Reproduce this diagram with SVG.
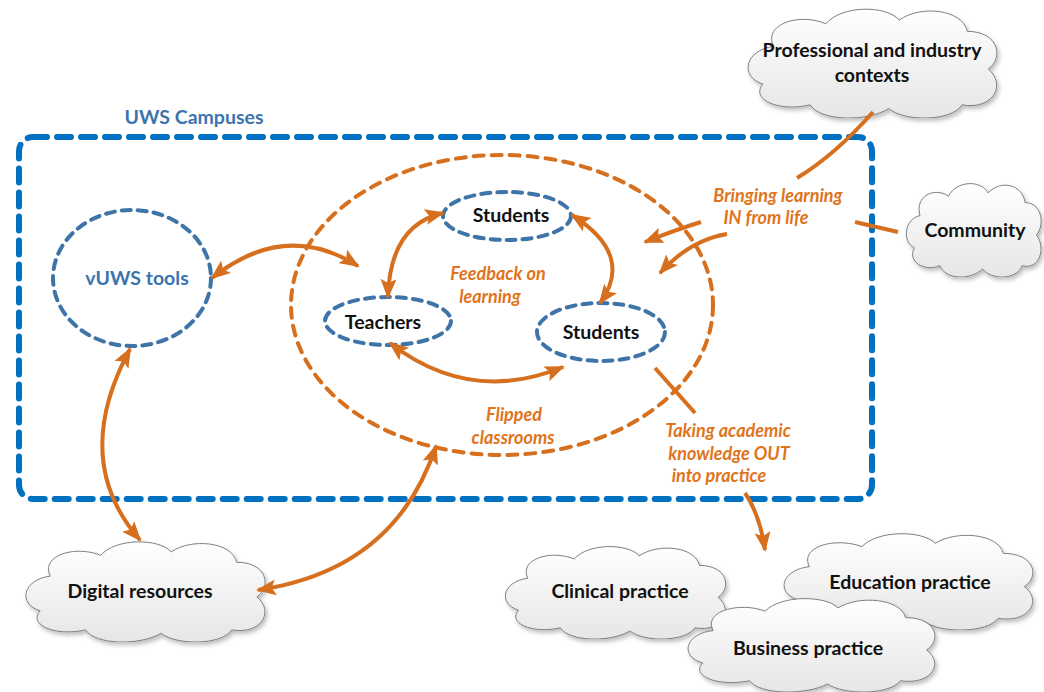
<svg xmlns="http://www.w3.org/2000/svg" width="1044" height="692" viewBox="0 0 1044 692">
<defs>
<linearGradient id="cg" x1="0" y1="0" x2="0" y2="1">
<stop offset="0" stop-color="#ffffff"/><stop offset="1" stop-color="#e6e6e6"/>
</linearGradient>
<filter id="sh" x="-10%" y="-10%" width="130%" height="130%">
<feDropShadow dx="2" dy="3" stdDeviation="2" flood-color="#000" flood-opacity="0.25"/>
</filter>
<symbol id="cloud" viewBox="0 0 100 60" preserveAspectRatio="none">
<path d="M12,22 C8,10 22,4 32,10 C38,0 55,0 60,8 C68,0 84,2 86,14 C98,14 100,28 94,34 C101,42 96,56 84,53 C80,62 62,62 56,55 C48,62 30,62 26,53 C14,57 3,50 8,42 C-1,38 1,24 12,22 Z" fill="url(#cg)" stroke="#7f7f7f" stroke-width="1" vector-effect="non-scaling-stroke"/>
</symbol>
<marker id="ah" viewBox="0 0 20 16" refX="18" refY="8" markerWidth="20" markerHeight="16" markerUnits="userSpaceOnUse" orient="auto-start-reverse">
<path d="M0,0 L20,8 L0,16 L4,8 Z" fill="#D7701E"/>
</marker>
</defs>
<style>
.lbl{font-family:Lato,"Open Sans","Liberation Sans",sans-serif;font-weight:bold;font-size:19.5px;fill:#111;text-anchor:middle}
.it{font-family:Lato,"Open Sans","Liberation Sans",sans-serif;font-style:italic;font-weight:bold;font-size:18px;fill:#E0741C;text-anchor:middle}
.blt{font-family:Lato,"Open Sans","Liberation Sans",sans-serif;font-weight:bold;font-size:19.5px;fill:#3D74AE;text-anchor:middle}
.bel{fill:none;stroke:#3F74A8;stroke-width:4;stroke-dasharray:9 7;stroke-linecap:round}
.con{fill:none;stroke:#D7701E;stroke-width:4}
.arr{fill:none;stroke:#D7701E;stroke-width:4;marker-end:url(#ah)}
.arr2{fill:none;stroke:#D7701E;stroke-width:4;marker-start:url(#ah);marker-end:url(#ah)}
</style>
<rect width="1044" height="692" fill="#fff"/>

<g id="campus">
<rect x="19" y="137" width="853" height="362" rx="14" fill="none" stroke="#0070C0" stroke-width="6" stroke-dasharray="14 10" stroke-linecap="round"/>
<text class="blt" x="194" y="124">UWS Campuses</text>
</g>

<g id="classroom">
<ellipse cx="502" cy="305" rx="211" ry="150" fill="none" stroke="#D7701E" stroke-width="4" stroke-dasharray="10 8" stroke-linecap="round"/>
</g>

<g id="vuws">
<ellipse class="bel" cx="132" cy="278" rx="79" ry="68"/>
<text class="blt" x="137" y="285">vUWS tools</text>
</g>

<g id="students-top">
<ellipse class="bel" cx="507" cy="216" rx="64" ry="24"/>
<text class="lbl" x="511" y="222">Students</text>
</g>
<g id="teachers">
<ellipse class="bel" cx="388" cy="321" rx="63" ry="24"/>
<text class="lbl" x="383" y="329">Teachers</text>
</g>
<g id="students-right">
<ellipse class="bel" cx="601" cy="332" rx="64" ry="29"/>
<text class="lbl" x="601" y="339">Students</text>
</g>

<g id="professional">
<use href="#cloud" x="742" y="5" width="262" height="113" filter="url(#sh)"/>
<text class="lbl" x="872" y="57">Professional and industry</text>
<text class="lbl" x="872" y="82">contexts</text>
</g>
<g id="community">
<use href="#cloud" x="903" y="180" width="142" height="97" filter="url(#sh)"/>
<text class="lbl" x="975" y="237">Community</text>
</g>
<g id="digital">
<use href="#cloud" x="20" y="538" width="252" height="104" filter="url(#sh)"/>
<text class="lbl" x="140" y="598">Digital resources</text>
</g>
<g id="clinical">
<use href="#cloud" x="500" y="543" width="232" height="96" filter="url(#sh)"/>
<text class="lbl" x="620" y="598">Clinical practice</text>
</g>
<g id="education">
<use href="#cloud" x="778" y="530" width="262" height="100" filter="url(#sh)"/>
<text class="lbl" x="910" y="589">Education practice</text>
</g>
<g id="business">
<use href="#cloud" x="682" y="595" width="260" height="97" filter="url(#sh)"/>
<text class="lbl" x="808" y="655">Business practice</text>
</g>

<g id="connectors">
<path class="arr2" d="M212,278 Q285,220 358,266"/>
<path class="arr2" d="M388,297 Q390,225 443,213"/>
<path class="arr2" d="M572,215 Q635,255 600,303"/>
<path class="arr2" d="M390,343 Q470,405 563,367"/>
<path class="arr2" d="M130,349 Q70,460 140,540"/>
<path class="arr2" d="M436,446 Q395,570 258,590"/>
<path class="con" d="M873,112 Q835,155 797,178"/>
<path class="con" d="M898,232 L855,222"/>
<path class="arr" d="M701,222 Q675,230 645,242"/>
<path class="arr" d="M727,234 Q690,240 660,273"/>
<path class="con" d="M655,368 L695,413"/>
<path class="arr" d="M745,493 Q760,515 765,550"/>
</g>

<g id="labels">
<text class="it" x="498" y="280">Feedback on</text>
<text class="it" x="490" y="303">learning</text>
<text class="it" x="514" y="421">Flipped</text>
<text class="it" x="513" y="444">classrooms</text>
<text class="it" x="778" y="202">Bringing learning</text>
<text class="it" x="766" y="224">IN from life</text>
<text class="it" x="728" y="437">Taking academic</text>
<text class="it" x="729" y="460">knowledge OUT</text>
<text class="it" x="719" y="482">into practice</text>
</g>
</svg>
